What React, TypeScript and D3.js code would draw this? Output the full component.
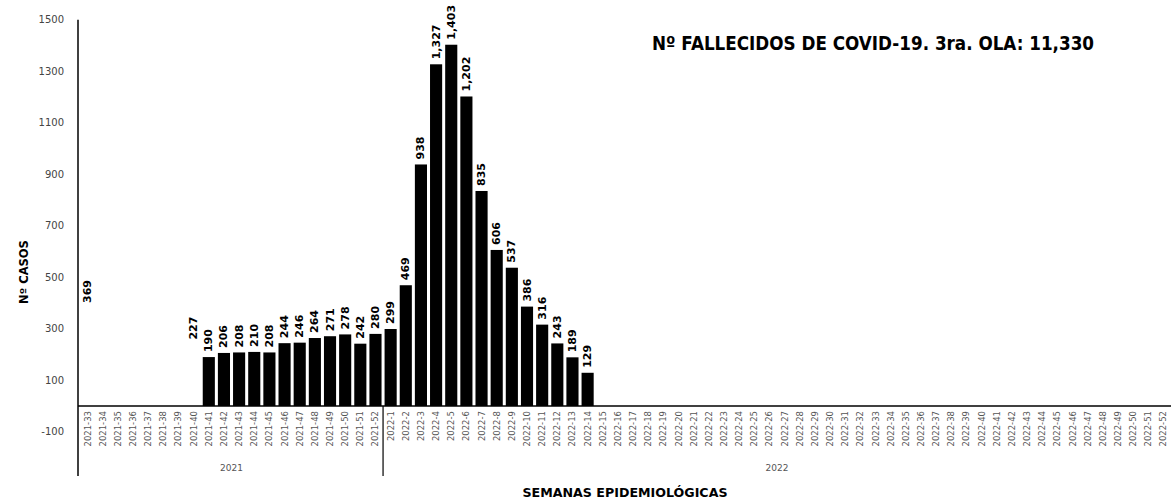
import React from "react";
import * as d3 from "d3";

const weeks2021 = [
  "2021-33", "2021-34", "2021-35", "2021-36", "2021-37", "2021-38", "2021-39", "2021-40",
  "2021-41", "2021-42", "2021-43", "2021-44", "2021-45", "2021-46", "2021-47", "2021-48",
  "2021-49", "2021-50", "2021-51", "2021-52",
];
const weeks2022 = [
  "2022-1", "2022-2", "2022-3", "2022-4", "2022-5", "2022-6", "2022-7", "2022-8", "2022-9", "2022-10",
  "2022-11", "2022-12", "2022-13", "2022-14", "2022-15", "2022-16", "2022-17", "2022-18", "2022-19", "2022-20",
  "2022-21", "2022-22", "2022-23", "2022-24", "2022-25", "2022-26", "2022-27", "2022-28", "2022-29", "2022-30",
  "2022-31", "2022-32", "2022-33", "2022-34", "2022-35", "2022-36", "2022-37", "2022-38", "2022-39", "2022-40",
  "2022-41", "2022-42", "2022-43", "2022-44", "2022-45", "2022-46", "2022-47", "2022-48", "2022-49", "2022-50",
  "2022-51", "2022-52",
];
const values2021 = [0, 0, 0, 0, 0, 0, 0, 0, 190, 206, 208, 210, 208, 244, 246, 264, 271, 278, 242, 280];
const values2022 = [
  299, 469, 938, 1327, 1403, 1202, 835, 606, 537, 386, 316, 243, 189, 129,
  0, 0, 0, 0, 0, 0, 0, 0, 0, 0, 0, 0, 0, 0, 0, 0, 0, 0, 0, 0, 0, 0, 0, 0, 0, 0,
  0, 0, 0, 0, 0, 0, 0, 0, 0, 0, 0, 0,
];
// stray data labels shown without a visible bar
const labelOnlyWeeks = ["2021-33", "2021-40"];
const labelOnlyValues = [369, 227];

const yTicks = [-100, 100, 300, 500, 700, 900, 1100, 1300, 1500];
const groups = ["2021", "2022"];

const W = 1171;
const H = 499;

export default function App() {
  const weeks = [...weeks2021, ...weeks2022];
  const values = [...values2021, ...values2022];
  const x = d3.scaleBand<string>().domain(weeks).range([80, 1171]).paddingInner(0.2).paddingOuter(0.1);
  const y = d3.scaleLinear().domain([-100, 1500]).range([431.75, 19.75]);
  const fmt = d3.format(",");
  const axisX = 78;
  const y0 = y(0);
  const half = (x.step() - x.bandwidth()) / 2;
  const sepX = (x(weeks2022[0]) as number) - half;
  const groupSpans = [
    [(x(weeks2021[0]) as number) - half, sepX],
    [sepX, (x(weeks2022[weeks2022.length - 1]) as number) + x.bandwidth() + half],
  ];
  const labelFont = "'DejaVu Sans', sans-serif";

  return (
    <div style={{ position: "fixed", left: 0, top: 0 }}>
      <svg width={W} height={H} style={{ display: "block", background: "#fff" }}>
        {/* bars */}
        {weeks.map((w, i) =>
          values[i] > 0 ? (
            <rect key={w} x={x(w)} y={y(values[i])} width={x.bandwidth()} height={y0 - y(values[i])} fill="#000" />
          ) : null
        )}
        {/* value labels */}
        {weeks.map((w, i) => {
          if (values[i] <= 0) return null;
          const cx = (x(w) as number) + x.bandwidth() / 2;
          const ty = y(values[i]) - 5;
          return (
            <text key={"v" + w} transform={`translate(${cx},${ty}) rotate(-90)`} dominantBaseline="central"
              fontFamily={labelFont} fontWeight="bold" fontSize={11} fill="#000">
              {fmt(values[i])}
            </text>
          );
        })}
        {labelOnlyWeeks.map((w, i) => {
          const cx = (x(w) as number) + x.bandwidth() / 2;
          const ty = y(labelOnlyValues[i]) - 8;
          return (
            <text key={"lo" + w} transform={`translate(${cx},${ty}) rotate(-90)`} dominantBaseline="central"
              fontFamily={labelFont} fontWeight="bold" fontSize={11} fill="#000">
              {fmt(labelOnlyValues[i])}
            </text>
          );
        })}
        {/* axes */}
        <line x1={axisX} x2={W} y1={y0} y2={y0} stroke="#000" strokeWidth={1.5} />
        <line x1={axisX} x2={axisX} y1={y(1500)} y2={476} stroke="#000" strokeWidth={1.5} />
        <line x1={sepX} x2={sepX} y1={y0} y2={476} stroke="#000" strokeWidth={1.2} />
        {yTicks.map((t) => (
          <text key={"yt" + t} x={64} y={y(t)} textAnchor="end" dominantBaseline="central"
            fontFamily={labelFont} fontSize={10} fill="#444">
            {t}
          </text>
        ))}
        {/* week labels */}
        {weeks.map((w) => {
          const cx = (x(w) as number) + x.bandwidth() / 2;
          return (
            <text key={"wl" + w} transform={`translate(${cx},${y0 + 5}) rotate(-90)`} textAnchor="end"
              dominantBaseline="central" fontFamily={labelFont} fontSize={8.5} fill="#555">
              {w}
            </text>
          );
        })}
        {groups.map((g, i) => (
          <text key={g} x={(groupSpans[i][0] + groupSpans[i][1]) / 2} y={468} textAnchor="middle"
            dominantBaseline="central" fontFamily={labelFont} fontSize={9} fill="#555">
            {g}
          </text>
        ))}
        {/* titles */}
        <text x={652} y={50} textLength={442} lengthAdjust="spacingAndGlyphs" fontFamily={labelFont}
          fontWeight="bold" fontSize={19} fill="#000">
          Nº FALLECIDOS DE COVID-19. 3ra. OLA: 11,330
        </text>
        <text x={625} y={497} textAnchor="middle" textLength={205} lengthAdjust="spacingAndGlyphs"
          fontFamily={labelFont} fontWeight="bold" fontSize={12.5} fill="#000">
          SEMANAS EPIDEMIOLÓGICAS
        </text>
        <text transform={`translate(24,272) rotate(-90)`} textAnchor="middle" dominantBaseline="central"
          fontFamily={labelFont} fontWeight="bold" fontSize={11.5} fill="#000">
          Nº CASOS
        </text>
      </svg>
    </div>
  );
}
